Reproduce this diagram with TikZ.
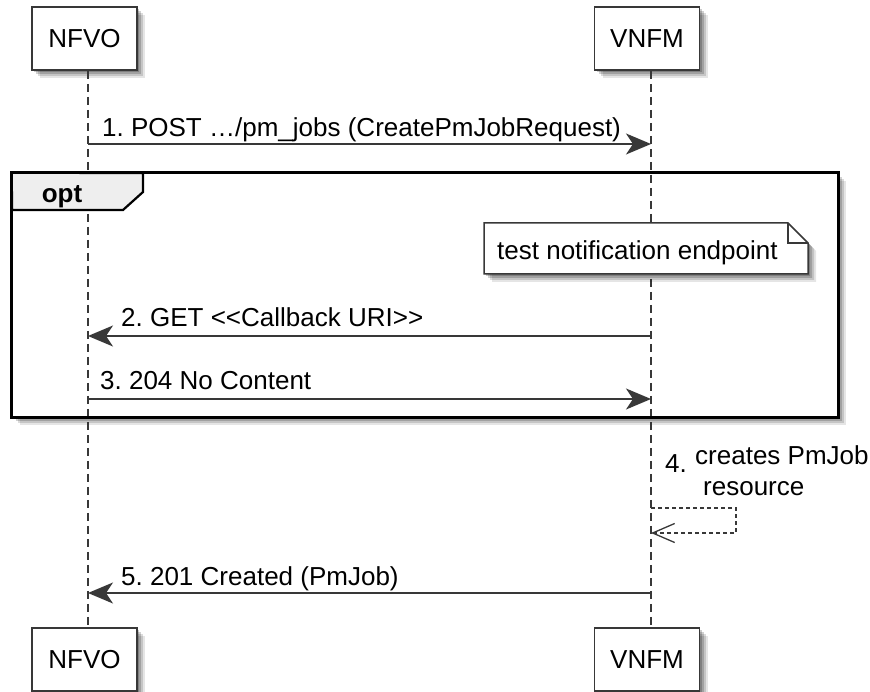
\documentclass[tikz,border=0pt]{standalone}
\usepackage{fontspec}
\setmainfont{Liberation Sans}
\usetikzlibrary{arrows.meta,shadows}
\definecolor{ln}{HTML}{383838}
\definecolor{tabfill}{HTML}{EEEEEE}
\begin{document}
\begin{tikzpicture}[x=1pt,y=-1pt,
  softshadow/.style={
    drop shadow={shadow xshift=2pt,shadow yshift=-2pt,opacity=.20,fill=black},
    drop shadow={shadow xshift=4pt,shadow yshift=-4pt,opacity=.18,fill=black},
    drop shadow={shadow xshift=6pt,shadow yshift=-6pt,opacity=.14,fill=black},
    drop shadow={shadow xshift=8pt,shadow yshift=-8pt,opacity=.10,fill=black}},
  part/.style={draw=ln, line width=1.8pt, fill=white, softshadow,
    minimum width=105pt, minimum height=63pt, inner sep=0pt,
    font=\fontsize{26}{30}\selectfont},
  life/.style={draw=ln, line width=1.3pt, dash pattern=on 8pt off 5pt},
  msg/.style={draw=ln, line width=1.6pt,
    -{Stealth[length=25pt,width=21pt,inset=7pt,fill=ln]}},
  selfmsg/.style={draw=ln, line width=1.1pt, dash pattern=on 4pt off 3pt,
    -{Straight Barb[length=22pt,width=19pt,line width=1.3pt]}},
  lbl/.style={inner sep=0pt, anchor=base west,
    font=\fontsize{26}{31}\selectfont\frenchspacing},
]
\useasboundingbox (0,0) rectangle (870,692);

% lifeline x positions
\coordinate (nl) at (88,0);
\coordinate (vl) at (651,0);

% opt frame background (white with shadow)
\node[fill=white, softshadow, minimum width=826pt, minimum height=244pt,
      inner sep=0pt] (opt) at (425,295) {};

% participants
\node[part] (nfvo)  at (84.5,38.5)  {\raisebox{-3pt}{NFVO}};
\node[part] (vnfm)  at (647,38.5)   {\raisebox{-3pt}{VNFM}};
\node[part] (nfvo2) at (84.5,659.5) {\raisebox{-3pt}{NFVO}};
\node[part] (vnfm2) at (647,659.5)  {\raisebox{-3pt}{VNFM}};

% lifelines
\draw[life] (nl |- nfvo.south) -- (nl |- nfvo2.north);
\draw[life] (vl |- vnfm.south) -- (vl |- vnfm2.north);

% opt frame border and tab
\draw[black, line width=3pt] (opt.north west) rectangle (opt.south east);
\coordinate (t1) at (143,173);
\coordinate (t2) at (143,192);
\coordinate (t3) at (123,210);
\coordinate (t4) at (12,210);
\draw[black, line width=2.2pt, fill=tabfill, line join=miter]
  (opt.north west) -- (t1) -- (t2) -- (t3) -- (t4) -- cycle;
\node[inner sep=0pt, anchor=base, font=\fontsize{26}{30}\selectfont\bfseries]
  (optlbl) at (62,203) {opt};

% note
\coordinate (n1) at (484,223);
\coordinate (n2) at (788,223);
\coordinate (n3) at (808,243);
\coordinate (n4) at (808,274);
\coordinate (n5) at (484,274);
\coordinate (nf) at (788,243);
\draw[ln, line width=1.5pt, fill=white, softshadow]
  (n1) -- (n2) -- (n3) -- (n4) -- (n5) -- cycle;
\draw[ln, line width=1.5pt] (n2) -- (nf) -- (n3);
\node[lbl] (notetxt) at (497,260) {test notification endpoint};

% messages
\coordinate (m1s) at (nl |- 0,144);  \coordinate (m1e) at (vl |- 0,144);
\coordinate (m2s) at (vl |- 0,336);  \coordinate (m2e) at (nl |- 0,336);
\coordinate (m3s) at (nl |- 0,399);  \coordinate (m3e) at (vl |- 0,399);
\coordinate (m4s) at (vl |- 0,508);  \coordinate (m4e) at (vl |- 0,533);
\coordinate (m5s) at (vl |- 0,593);  \coordinate (m5e) at (nl |- 0,593);

\draw[msg] (m1s) -- (m1e);
\node[lbl] (l1) at (102,137) {1. POST …/pm\_jobs (CreatePmJobRequest)};

\draw[msg] (m2s) -- (m2e);
\node[lbl] (l2) at (121,327) {2. GET <\kern0pt<Callback URI>\kern0pt>};

\draw[msg] (m3s) -- (m3e);
\node[lbl] (l3) at (100,390) {3. 204 No Content};

\draw[selfmsg] (m4s) -- ++(85,0) -- ++(0,25) -- (m4e);
\node[lbl] (l4n) at (665,472) {4.};
\node[lbl] (l4a) at (695,464) {creates PmJob};
\node[lbl] (l4b) at (703,495) {resource};

\draw[msg] (m5s) -- (m5e);
\node[lbl] (l5) at (121,585) {5. 201 Created (PmJob)};
\end{tikzpicture}
\end{document}
